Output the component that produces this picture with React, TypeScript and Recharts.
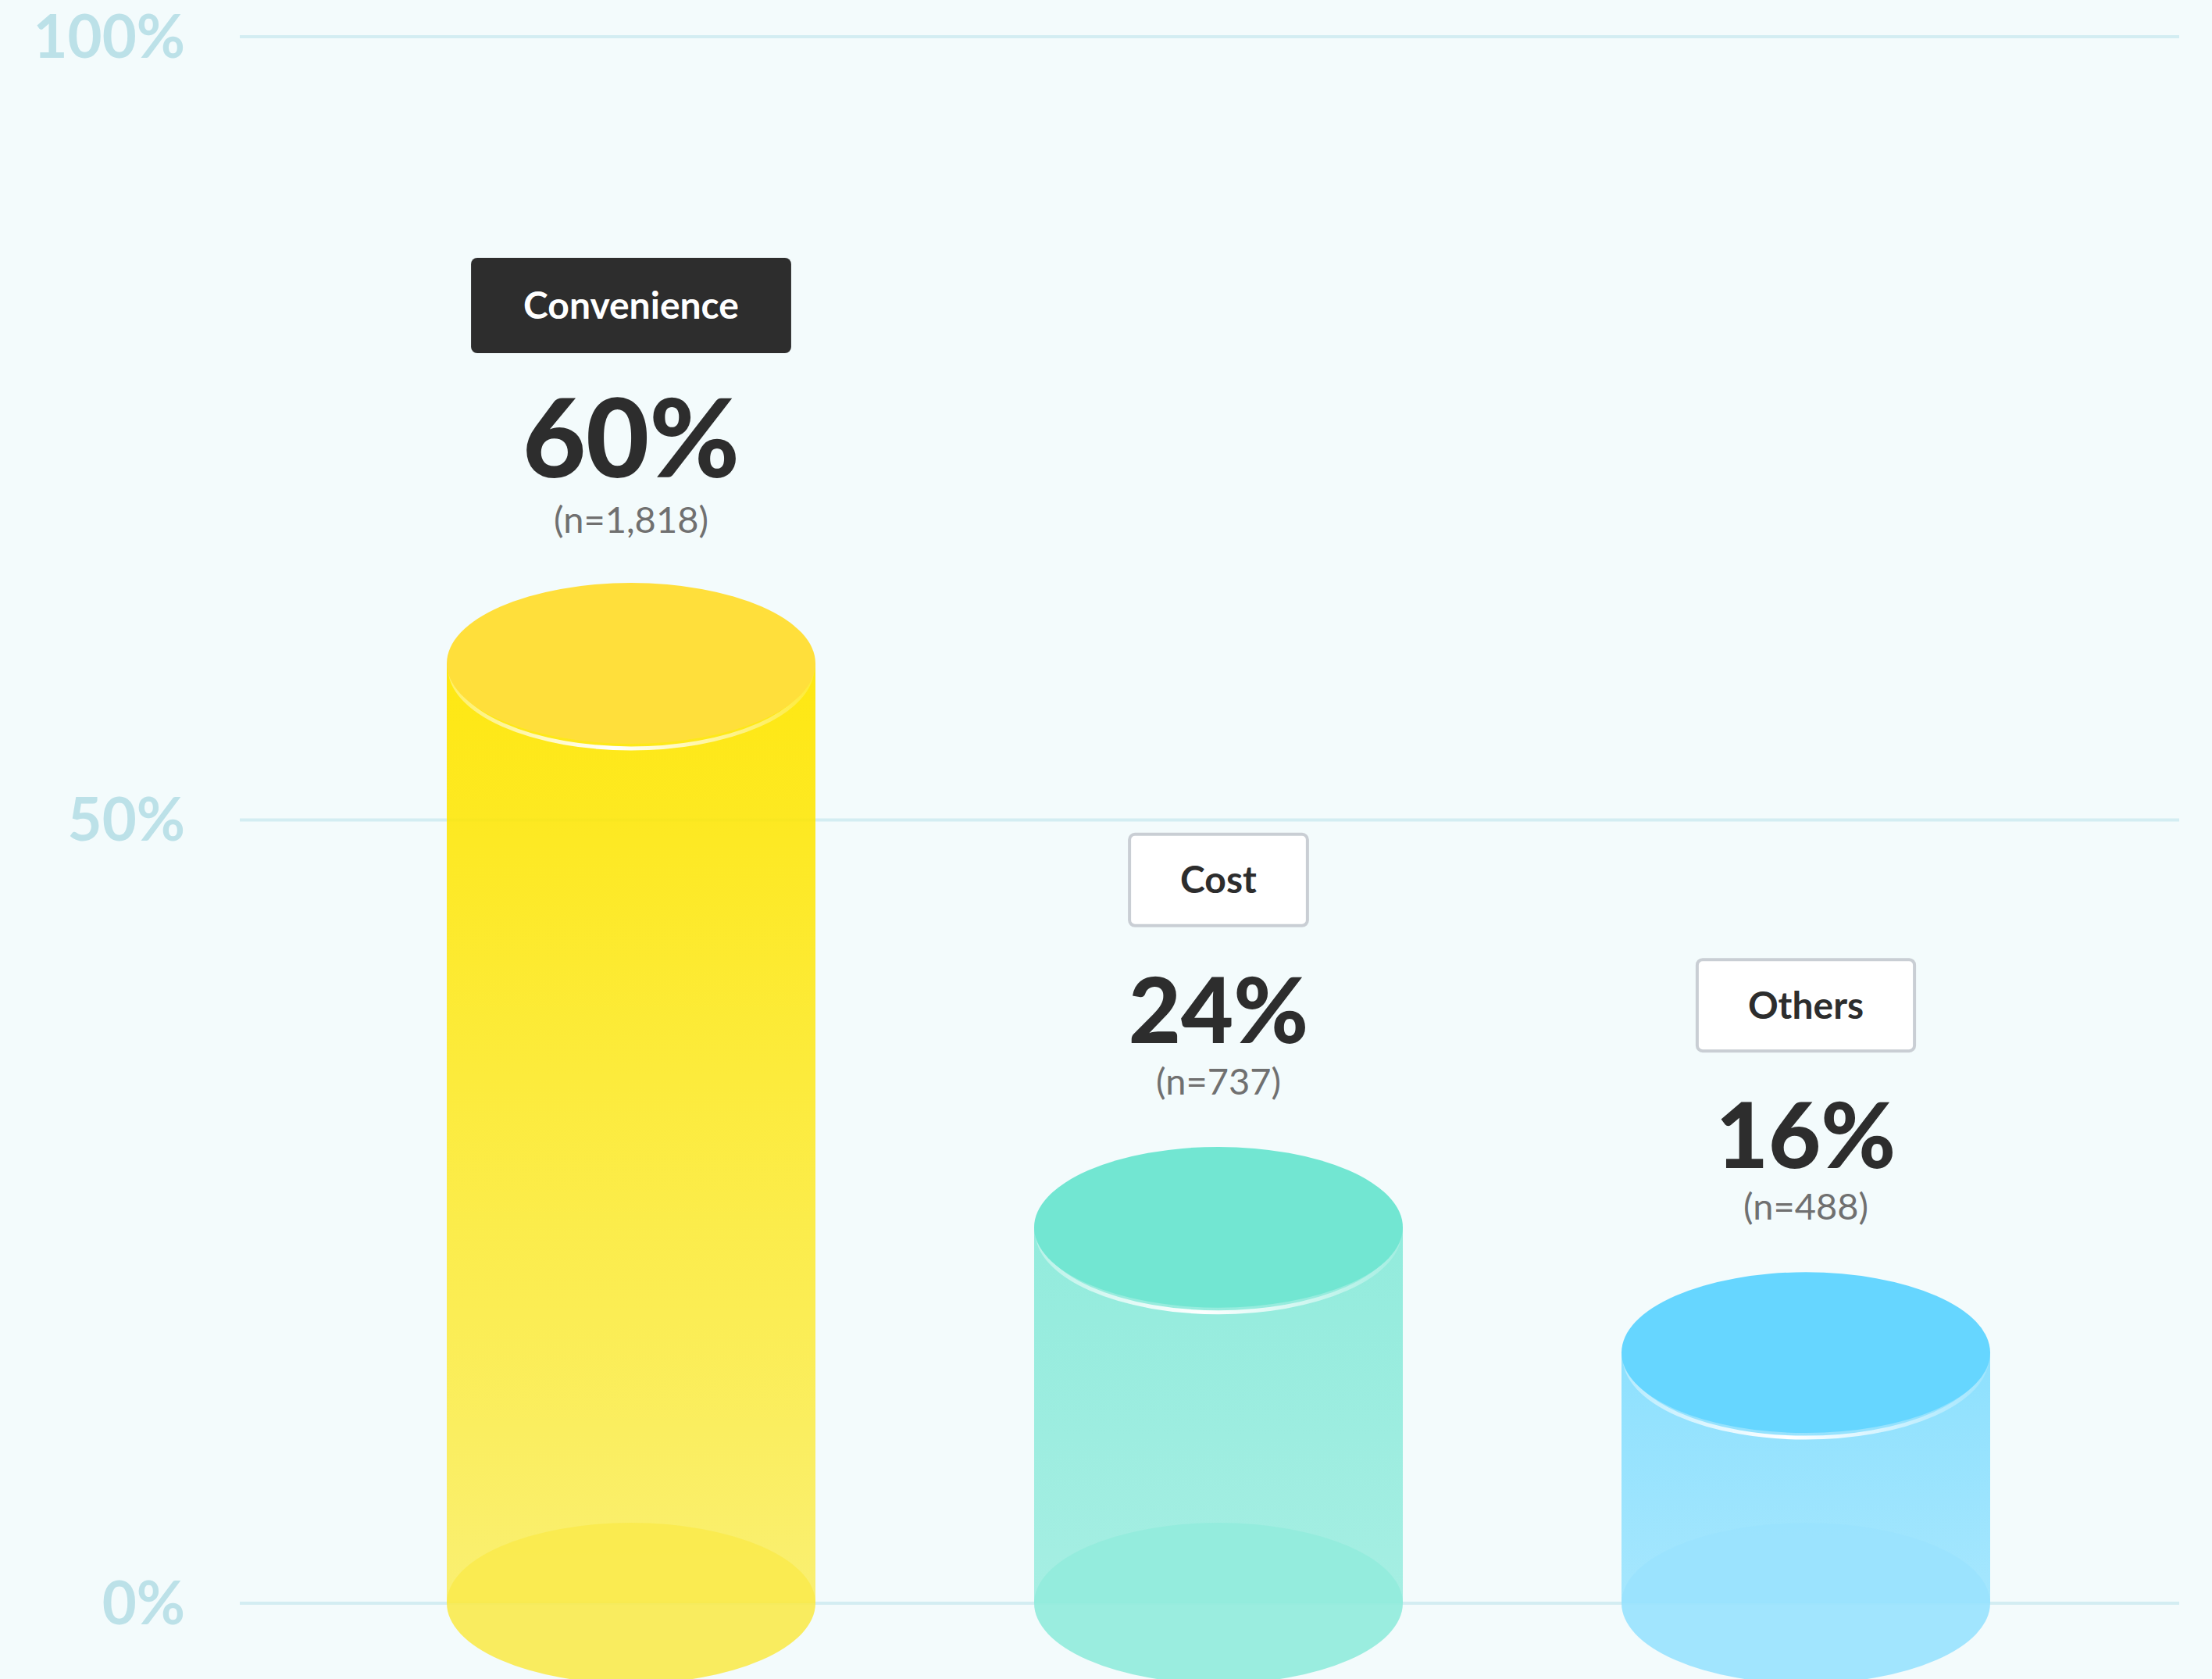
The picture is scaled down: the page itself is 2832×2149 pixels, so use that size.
import React from 'react';
import { BarChart, Bar, XAxis, YAxis, CartesianGrid } from 'recharts';

const categories = ['Convenience', 'Cost', 'Others'];
const shares = [60, 24, 16];
const shareLabels = ['60%', '24%', '16%'];
const counts = ['1,818', '737', '488'];
const yTicks = [0, 50, 100];
const highlightIndex = 0;

const palette = [
  { top: '#FFDF3B', body: '#FFE600', bodyTopOp: 0.93, bodyBotOp: 0.55, bottom: '#FAEA4E', bottomOp: 0.9 },
  { top: '#72E6D2', body: '#72E6D2', bodyTopOp: 0.75, bodyBotOp: 0.6, bottom: '#93EBDC', bottomOp: 0.92 },
  { top: '#66D6FF', body: '#66D6FF', bodyTopOp: 0.72, bodyBotOp: 0.55, bottom: '#9AE3FE', bottomOp: 0.92 },
];

const data = categories.map((name, i) => ({ name, value: shares[i] }));

const FONT = 'Lato, "Open Sans", sans-serif';

let ctx: CanvasRenderingContext2D | null = null;
function measure(text: string, font: string): number {
  if (!ctx) ctx = document.createElement('canvas').getContext('2d');
  if (!ctx) return text.length * 25;
  ctx.font = font;
  return ctx.measureText(text).width;
}

function Cylinder(props: any) {
  const { x, y, width, height, index } = props;
  const c = palette[index];
  const cx = x + width / 2;
  const rx = width / 2;
  const ry = width * 0.218;
  const base = y + height;
  const gid = `body-grad-${index}`;
  const rid = `rim-grad-${index}`;
  const hl = index === highlightIndex;
  const name = categories[index];
  const boxW = measure(name, `700 48px ${FONT}`) + 134;
  const boxTop = hl ? y - 519 : y - 505;
  const boxH = hl ? 122 : 121;
  return (
    <g>
      <defs>
        <linearGradient id={gid} x1="0" y1="0" x2="0" y2="1">
          <stop offset="0" stopColor={c.body} stopOpacity={c.bodyTopOp} />
          <stop offset="1" stopColor={c.body} stopOpacity={c.bodyBotOp} />
        </linearGradient>
        <linearGradient id={rid} x1="0" y1="0" x2="1" y2="0">
          <stop offset="0" stopColor="#ffffff" stopOpacity={0.35} />
          <stop offset="0.45" stopColor="#ffffff" stopOpacity={1} />
          <stop offset="1" stopColor="#ffffff" stopOpacity={0.15} />
        </linearGradient>
      </defs>
      <rect x={x} y={y} width={width} height={height} fill={`url(#${gid})`} />
      <ellipse cx={cx} cy={base} rx={rx} ry={ry} fill={c.bottom} fillOpacity={c.bottomOp} />
      <path
        d={`M ${x + 4} ${y + 6} A ${rx - 4} ${ry} 0 0 0 ${x + width - 4} ${y + 6}`}
        stroke={`url(#${rid})`}
        strokeWidth={5}
        fill="none"
        strokeLinecap="round"
      />
      <ellipse cx={cx} cy={y} rx={rx} ry={ry} fill={c.top} />

      {hl ? (
        <rect x={cx - boxW / 2} y={boxTop} width={boxW} height={boxH} rx={8} fill="#2D2D2D" />
      ) : (
        <rect x={cx - boxW / 2 + 2} y={boxTop + 2} width={boxW - 4} height={boxH - 4} rx={7} fill="#FFFFFF" stroke="#C9CED4" strokeWidth={4} />
      )}
      <text
        x={cx}
        y={boxTop + boxH / 2 + 17}
        textAnchor="middle"
        fontFamily={FONT}
        fontWeight={700}
        fontSize={48}
        fill={hl ? '#FFFFFF' : '#2D2D2D'}
      >
        {name}
      </text>
      <text
        x={cx}
        y={hl ? y - 238 : y - 236}
        textAnchor="middle"
        fontFamily={FONT}
        fontWeight={900}
        fontSize={hl ? 140 : 116}
        fill="#2D2D2D"
      >
        {shareLabels[index]}
      </text>
      <text
        x={cx}
        y={hl ? y - 167 : y - 170}
        textAnchor="middle"
        fontFamily={FONT}
        fontWeight={400}
        fontSize={47}
        fill="#707070"
      >
        {`(n=${counts[index]})`}
      </text>
    </g>
  );
}

export default function App() {
  return (
    <div
      style={{
        position: 'absolute',
        left: 0,
        top: 0,
        width: 2832,
        height: 2149,
        background: '#F3FBFC',
        fontFamily: FONT,
        overflow: 'hidden',
      }}
    >
      <BarChart
        width={2832}
        height={2149}
        data={data}
        margin={{ top: 47, right: 42, bottom: 97, left: 0 }}
      >
        <CartesianGrid horizontal vertical={false} stroke="#D3EDF2" strokeWidth={4} />
        <XAxis dataKey="name" hide padding={{ left: 125, right: 102 }} />
        <YAxis
          width={307}
          domain={[0, 100]}
          ticks={yTicks}
          tickFormatter={(v: number) => `${v}%`}
          axisLine={false}
          tickLine={false}
          tickSize={0}
          tickMargin={70}
          tick={{ fill: '#BCE1E8', fontSize: 76, fontWeight: 700, fontFamily: FONT }}
        />
        <Bar dataKey="value" barSize={472} isAnimationActive={false} shape={Cylinder} />
      </BarChart>
    </div>
  );
}
